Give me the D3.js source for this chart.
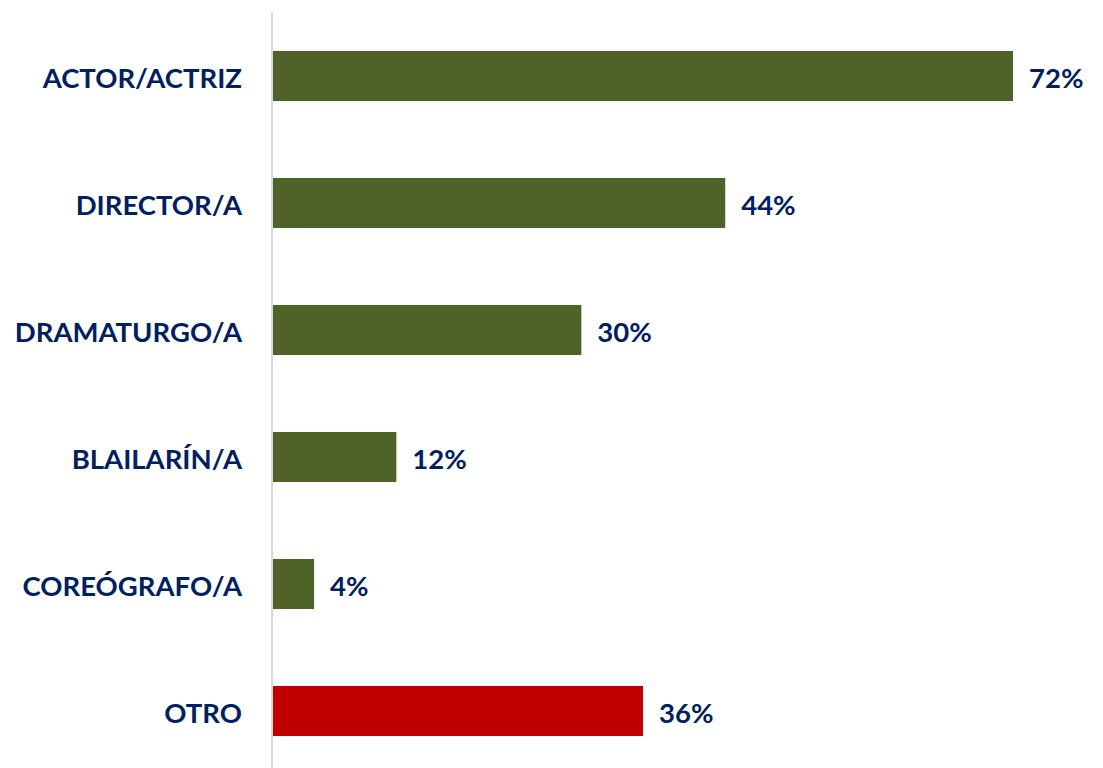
<!DOCTYPE html>
<html>
<head>
<meta charset="utf-8">
<script src="https://cdn.jsdelivr.net/npm/d3@7"></script>
<style>
  body { margin: 0; background: #fff; }
  svg text { font-family: Lato, "Open Sans", sans-serif; font-weight: bold; }
</style>
</head>
<body>
<svg></svg>
<script>
let categories = ['ACTOR/ACTRIZ', 'DIRECTOR/A', 'DRAMATURGO/A', 'BLAILARÍN/A', 'COREÓGRAFO/A', 'OTRO']
let values = [72, 44, 30, 12, 4, 36]
let barColors = ['#4F6228', '#4F6228', '#4F6228', '#4F6228', '#4F6228', '#C00000']

let width = 1103
let height = 768
let axisX = 273

let svg = d3.select('svg')
  .attr('width', width)
  .attr('height', height)

// 72% -> 739px
let xScale = d3.scaleLinear()
  .domain([0, 72])
  .range([axisX, 1013])

let yScale = d3.scaleBand()
  .domain(categories)
  .range([12.5, 774.5])
  .paddingInner(0.606)
  .paddingOuter(0.303)

svg.selectAll('rect.bar')
  .data(values)
  .enter()
  .append('rect')
  .attr('class', 'bar')
  .attr('x', xScale(0))
  .attr('y', (d, i) => yScale(categories[i]))
  .attr('width', (d) => xScale(d) - xScale(0))
  .attr('height', yScale.bandwidth())
  .attr('fill', (d, i) => barColors[i])

let yAxis = d3.axisLeft(yScale).tickSize(0).tickPadding(30)
let gy = svg.append('g')
  .attr('transform', 'translate(' + (axisX - 1) + ',0)')
  .call(yAxis)
gy.select('.domain').attr('stroke', '#D9D9D9').attr('stroke-width', 2)
  .attr('d', 'M0,12V768')
gy.selectAll('text')
  .attr('fill', '#002060')
  .style('font-size', '27.5px')
  .attr('dy', '0.42em')

svg.selectAll('text.val')
  .data(values)
  .enter()
  .append('text')
  .attr('class', 'val')
  .attr('x', (d) => xScale(d) + 16)
  .attr('y', (d, i) => yScale(categories[i]) + yScale.bandwidth() / 2)
  .attr('dy', '0.42em')
  .attr('fill', '#002060')
  .style('font-size', '27.5px')
  .text((d) => d + '%')
</script>
</body>
</html>
